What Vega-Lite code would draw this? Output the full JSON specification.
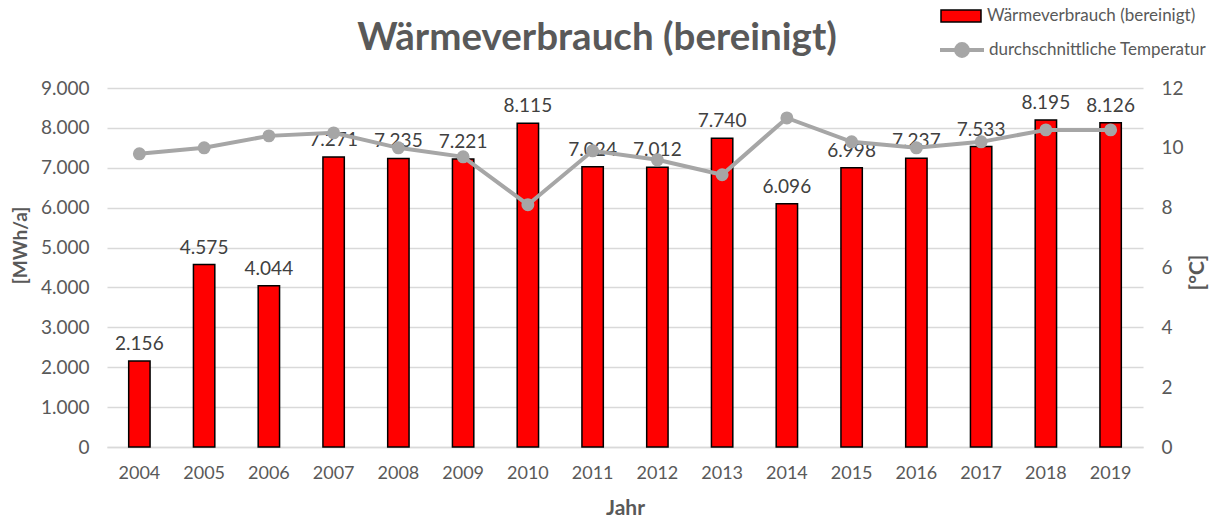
{
  "$schema": "https://vega.github.io/schema/vega-lite/v6.json",
  "width": 1036,
  "height": 359,
  "autosize": {"type": "none"},
  "padding": {"left": 107, "top": 88, "right": 69, "bottom": 71},
  "background": "white",
  "title": {
    "text": "Wärmeverbrauch (bereinigt)",
    "font": "Lato",
    "fontSize": 38.5,
    "fontWeight": "bold",
    "color": "#595959",
    "anchor": "middle",
    "frame": "group",
    "dx": -28,
    "offset": -63
  },
  "config": {
    "locale": {
      "number": {"decimal": ",", "thousands": ".", "grouping": [3], "currency": ["", " €"]}
    },
    "font": "Lato",
    "view": {"stroke": null}
  },
  "data": {
    "values": [
      {"Jahr": "2004", "Waerme": 2156, "Temp": 9.8},
      {"Jahr": "2005", "Waerme": 4575, "Temp": 10.0},
      {"Jahr": "2006", "Waerme": 4044, "Temp": 10.4},
      {"Jahr": "2007", "Waerme": 7271, "Temp": 10.5},
      {"Jahr": "2008", "Waerme": 7235, "Temp": 10.0},
      {"Jahr": "2009", "Waerme": 7221, "Temp": 9.7},
      {"Jahr": "2010", "Waerme": 8115, "Temp": 8.1},
      {"Jahr": "2011", "Waerme": 7024, "Temp": 9.9},
      {"Jahr": "2012", "Waerme": 7012, "Temp": 9.6},
      {"Jahr": "2013", "Waerme": 7740, "Temp": 9.1},
      {"Jahr": "2014", "Waerme": 6096, "Temp": 11.0},
      {"Jahr": "2015", "Waerme": 6998, "Temp": 10.2},
      {"Jahr": "2016", "Waerme": 7237, "Temp": 10.0},
      {"Jahr": "2017", "Waerme": 7533, "Temp": 10.2},
      {"Jahr": "2018", "Waerme": 8195, "Temp": 10.6},
      {"Jahr": "2019", "Waerme": 8126, "Temp": 10.6}
    ]
  },
  "encoding": {
    "x": {
      "field": "Jahr",
      "type": "ordinal",
      "scale": {"paddingInner": 0.67, "paddingOuter": 0.335},
      "axis": {
        "title": "Jahr",
        "titleFontSize": 21,
        "titleFontWeight": "bold",
        "titleColor": "#595959",
        "titlePadding": 15,
        "labelFontSize": 18,
        "labelColor": "#595959",
        "labelAngle": 0,
        "labelPadding": 17,
        "ticks": false,
        "domain": true,
        "domainColor": "#d9d9d9",
        "domainWidth": 1.5
      }
    }
  },
  "layer": [
    {
      "encoding": {
        "y": {
          "field": "Waerme",
          "type": "quantitative",
          "scale": {"domain": [0, 9000]},
          "axis": {
            "title": "[MWh/a]",
            "titleFontSize": 19,
            "titleFontWeight": "bold",
            "titleColor": "#595959",
            "titleAngle": -90,
            "titleX": -77,
            "titleY": 157,
            "labelFontSize": 19,
            "labelColor": "#595959",
            "labelPadding": 18,
            "format": ",d",
            "values": [0, 1000, 2000, 3000, 4000, 5000, 6000, 7000, 8000, 9000],
            "grid": true,
            "gridColor": "#d9d9d9",
            "gridWidth": 1.5,
            "domain": false,
            "ticks": false
          }
        }
      },
      "layer": [
        {
          "mark": {"type": "bar", "stroke": "black", "strokeWidth": 1.5},
          "encoding": {
            "fill": {
              "datum": "Wärmeverbrauch (bereinigt)",
              "type": "nominal",
              "scale": {"range": ["#ff0000"]},
              "legend": {
                "title": null,
                "orient": "none",
                "legendX": 833,
                "legendY": -93,
                "padding": 0,
                "symbolType": "M-1,-0.3H1V0.3H-1Z",
                "symbolSize": 1600,
                "symbolFillColor": "#ff0000",
                "symbolStrokeColor": "black",
                "symbolStrokeWidth": 1.5,
                "labelFontSize": 17,
                "labelColor": "#595959",
                "labelOffset": 5,
                "labelLimit": 400
              }
            }
          }
        },
        {
          "mark": {"type": "text", "baseline": "bottom", "dy": -7, "fontSize": 19, "color": "#404040"},
          "encoding": {
            "text": {"field": "Waerme", "type": "quantitative", "format": ",d"}
          }
        }
      ]
    },
    {
      "mark": {
        "type": "line",
        "strokeWidth": 4,
        "color": "#a6a6a6",
        "point": {"filled": true, "size": 120, "fill": "#a6a6a6", "stroke": null}
      },
      "encoding": {
        "y": {
          "field": "Temp",
          "type": "quantitative",
          "scale": {"domain": [0, 12]},
          "axis": {
            "orient": "right",
            "title": "[°C]",
            "titleFontSize": 21,
            "titleFontWeight": "bold",
            "titleColor": "#595959",
            "titleAngle": -90,
            "titleX": 64,
            "titleY": 184,
            "labelFontSize": 19,
            "labelColor": "#595959",
            "labelPadding": 18,
            "values": [0, 2, 4, 6, 8, 10, 12],
            "grid": false,
            "domain": false,
            "ticks": false
          }
        },
        "stroke": {
          "datum": "durchschnittliche Temperatur",
          "type": "nominal",
          "scale": {"range": ["#a6a6a6"]},
          "legend": {
            "title": null,
            "orient": "none",
            "legendX": 831,
            "legendY": -62,
            "padding": 0,
            "symbolType": "M-1,0H1M-0.27,0A0.27,0.27,0,1,0,0.27,0A0.27,0.27,0,1,0,-0.27,0Z",
            "symbolSize": 1936,
            "symbolFillColor": "#a6a6a6",
            "symbolStrokeColor": "#a6a6a6",
            "symbolStrokeWidth": 4,
            "labelFontSize": 17,
            "labelColor": "#595959",
            "labelOffset": 3,
            "labelLimit": 400
          }
        }
      }
    }
  ],
  "resolve": {"scale": {"y": "independent", "fill": "independent", "stroke": "independent"}}
}
